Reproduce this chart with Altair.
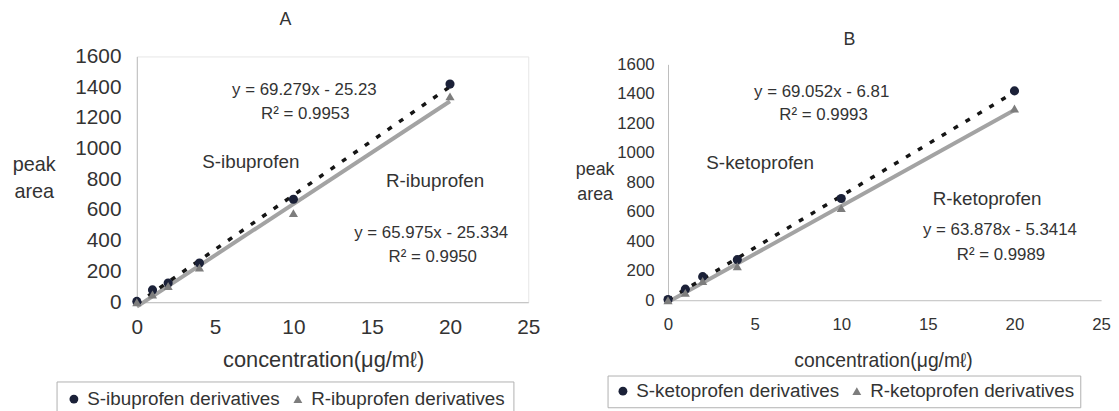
import altair as alt
import pandas as pd

# ---------------- data ----------------
conc = [0, 1, 2, 4, 10, 20]
ibu_s = [5, 80, 125, 255, 670, 1420]
ibu_r = [0, 50, 105, 225, 580, 1340]
keto_s = [5, 75, 160, 275, 690, 1420]
keto_r = [0, 50, 130, 230, 625, 1300]

x_ticks = [0, 5, 10, 15, 20, 25]
y_ticks = [0, 200, 400, 600, 800, 1000, 1200, 1400, 1600]

ibu_names = ["S-ibuprofen derivatives", "R-ibuprofen derivatives"]
keto_names = ["S-ketoprofen derivatives", "R-ketoprofen derivatives"]

ibu_notes = ["y = 69.279x - 25.23", "R² = 0.9953", "S-ibuprofen", "R-ibuprofen",
             "y = 65.975x - 25.334", "R² = 0.9950"]
keto_notes = ["y = 69.052x - 6.81", "R² = 0.9993", "S-ketoprofen", "R-ketoprofen",
              "y = 63.878x - 5.3414", "R² = 0.9989"]

x_title = "concentration(μg/mℓ)"
y_title = ["peak", "area"]

FONT = "Liberation Sans"
TXT = "#333333"
NAVY = "#1b2138"
GRAY = "#7d7d7d"


def make_df(names, s_vals, r_vals):
    rows = []
    for c, v in zip(conc, s_vals):
        rows.append({"conc": c, "area": v, "series": names[0]})
    for c, v in zip(conc, r_vals):
        rows.append({"conc": c, "area": v, "series": names[1]})
    return pd.DataFrame(rows)


def panel(df, names, notes, note_pos, title, g):
    xs = alt.Scale(domain=[0, 25], nice=False, zero=False)
    ys_kw = dict(domain=[0, 1600], nice=False, zero=False)
    if "yrange" in g:
        ys_kw["range"] = g["yrange"]
    ys = alt.Scale(**ys_kw)

    x_axis = alt.Axis(values=x_ticks, title=x_title, ticks=False, grid=False,
                      domainColor="#bdbdbd", labelFont=FONT, labelColor=TXT,
                      labelFontSize=g["tick_fs"], labelPadding=g["xlab_pad"],
                      labelFlush=False, labelOverlap=False, format="d",
                      titleFont=FONT, titleColor=TXT, titleFontWeight="normal",
                      titleFontSize=g["xt_fs"], titleX=g["xt_x"], titleY=g["xt_y"],
                      titleAlign="center", titleBaseline="middle")
    y_axis = alt.Axis(values=y_ticks, title=y_title, ticks=False, grid=False,
                      domainColor="#bdbdbd", labelFont=FONT, labelColor=TXT,
                      labelFontSize=g["tick_fs"], labelPadding=g["ylab_pad"],
                      labelFlush=False, labelOverlap=False, labelSeparation=0,
                      labelBound=False, format="d",
                      titleFont=FONT, titleColor=TXT, titleFontWeight="normal",
                      titleFontSize=g["yt_fs"], titleAngle=0, titleX=g["yt_x"],
                      titleY=g["yt_y"], titleAlign="center", titleBaseline="top",
                      titleLineHeight=g["yt_lh"])

    legend = alt.Legend(orient="none", legendX=g["lg_x"], legendY=g["lg_y"],
                        direction="horizontal", columns=2, title=None,
                        labelFont=FONT, labelColor=TXT, labelFontSize=g["lg_fs"],
                        labelLimit=400,
                        strokeColor="#b0b0b0", fillColor="white",
                        padding=g["lg_pad"], symbolSize=80, columnPadding=8,
                        labelOffset=4, symbolStrokeWidth=0)

    X = alt.X("conc:Q", scale=xs, axis=x_axis)
    Y = alt.Y("area:Q", scale=ys, axis=y_axis)

    base = alt.Chart(df)
    r_line = base.transform_filter(alt.datum.series == names[1]).transform_regression(
        "conc", "area").mark_line(color="#a3a3a3", strokeWidth=4).encode(x=X, y=Y)
    s_line = base.transform_filter(alt.datum.series == names[0]).transform_regression(
        "conc", "area").mark_line(color="#151515", strokeWidth=3.5,
                                  strokeDash=[5, 9]).encode(x=X, y=Y)
    pts = base.mark_point(filled=True, opacity=1, size=85).encode(
        x=X, y=Y,
        color=alt.Color("series:N", scale=alt.Scale(domain=names, range=[NAVY, GRAY]),
                        legend=legend),
        shape=alt.Shape("series:N",
                        scale=alt.Scale(domain=names, range=["circle", "triangle-up"]),
                        legend=legend))

    layers = [r_line, s_line, pts]
    for txt, (vx, vy, fs) in zip(notes, note_pos):
        xe = alt.XDatum(vx, type="quantitative", scale=xs, axis=x_axis)
        ye = alt.YDatum(vy, type="quantitative", scale=ys, axis=y_axis)
        layers.append(
            alt.Chart(pd.DataFrame({"label": [txt]})).mark_text(
                font=FONT, fontSize=fs, color=TXT, align="center", baseline="middle"
            ).encode(x=xe, y=ye, text="label:N"))
    layers.append(
        alt.Chart(pd.DataFrame({"label": [title]})).mark_text(
            font=FONT, fontSize=g["title_fs"], color=TXT, align="center",
            baseline="middle").encode(x=alt.value(g["title_x"]), y=alt.value(g["title_y"]),
                                      text="label:N"))
    ch = alt.layer(*layers).properties(width=g["w"], height=g["h"])
    return ch


geoA = dict(w=395, h=248, tick_fs=21, xlab_pad=15, ylab_pad=16,
            xt_fs=22, xt_x=188, xt_y=58, yt_fs=20, yt_x=-104, yt_y=99, yt_lh=27,
            lg_x=-81, lg_y=328, lg_fs=19, lg_pad=8,
            title_fs=18, title_x=150, title_y=-37)
geoB = dict(w=437, h=246, yrange=[246, 8], tick_fs=17, xlab_pad=17, ylab_pad=14,
            xt_fs=19.5, xt_x=217, xt_y=61, yt_fs=18, yt_x=-74, yt_y=105, yt_lh=25,
            lg_x=-61, lg_y=322, lg_fs=19, lg_pad=6,
            title_fs=18, title_x=183, title_y=-17)

posA = [(10.7, 1381, 17), (10.76, 1226, 17), (7.28, 910, 19), (19.05, 787, 19),
        (18.8, 452, 17), (18.9, 297, 17)]
posB = [(8.87, 1412, 17), (8.98, 1257, 17), (5.32, 928, 19), (18.42, 686, 19),
        (19.16, 477, 17), (19.22, 309, 17)]

chartA = panel(make_df(ibu_names, ibu_s, ibu_r), ibu_names, ibu_notes, posA, "A", geoA)
chartA = chartA.properties(view=alt.ViewBackground(stroke="#e6e6e6"))
chartB = panel(make_df(keto_names, keto_s, keto_r), keto_names, keto_notes, posB, "B", geoB)

chart = alt.hconcat(chartA, chartB, spacing=141, bounds="flush").resolve_scale(
    color="independent", shape="independent").configure_view(stroke=None).configure_axis(
    labelOverlap=False).configure_axisY(labelOverlap=False).properties(
    padding={"left": 3, "top": 0, "right": 0, "bottom": 0})

chart.save("out.html", embed_options={"renderer": "svg", "actions": False})
